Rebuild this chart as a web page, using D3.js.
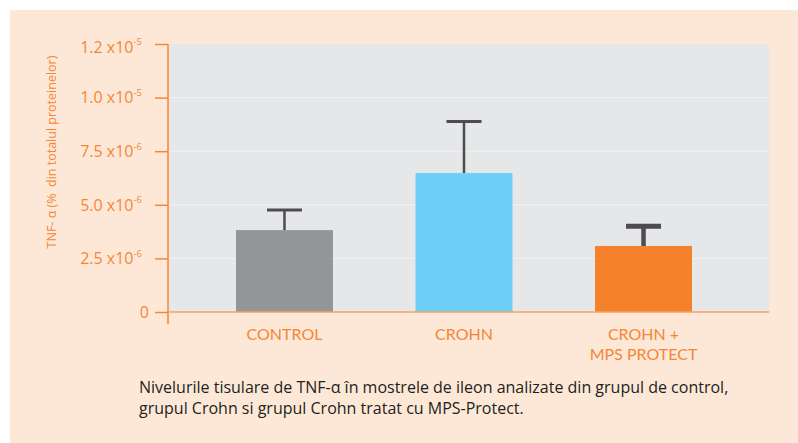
<!DOCTYPE html>
<html>
<head>
<meta charset="utf-8">
<script src="https://cdn.jsdelivr.net/npm/d3@7"></script>
<style>
  html, body { margin: 0; padding: 0; background: #ffffff; }
  svg { display: block; }
  text { font-family: "Open Sans", "Lato", sans-serif; }
</style>
</head>
<body>
<svg id="chart" width="798" height="443"></svg>
<script>
const categories = ["CONTROL", "CROHN", "CROHN +\nMPS PROTECT"];
const means = [3.82e-6, 6.48e-6, 3.08e-6];
const errTops = [4.76e-6, 8.89e-6, 4.0e-6];
const tickValues = [0, 2.5e-6, 5.0e-6, 7.5e-6, 1.0e-5, 1.25e-5];
const tickMantissas = ["0", "2.5", "5.0", "7.5", "1.0", "1.2"];
const tickExponents = ["", "-6", "-6", "-6", "-5", "-5"];
const barColors = ["#939598", "#6dcff6", "#f5822a"];
const errWidths = [3, 3, 5];
const yTitle = "TNF- \u03b1 (%  din totalul proteinelor)";
const caption = [
  "Nivelurile tisulare de TNF-\u03b1 \u00een mostrele de ileon analizate din grupul de control,",
  "grupul Crohn si grupul Crohn tratat cu MPS-Protect."
];

const orange = "#f58634";
const svg = d3.select("#chart");

svg.append("rect").attr("x", 10).attr("y", 10).attr("width", 788).attr("height", 433).attr("fill", "#fde8d8");

const plot = { left: 169, right: 769, top: 44, bottom: 312 };
svg.append("rect").attr("x", plot.left).attr("y", plot.top)
  .attr("width", plot.right - plot.left).attr("height", plot.bottom - plot.top)
  .attr("fill", "#e6e7e8");

const y = d3.scaleLinear().domain([0, 1.25e-5]).range([plot.bottom, plot.top]);
const x = d3.scaleBand().domain(categories).range([236, 692]).paddingInner(0.46).paddingOuter(0);

// gridlines
svg.append("g").selectAll("line").data(tickValues.filter(v => v > 0 && v < 1.25e-5)).join("line")
  .attr("x1", plot.left).attr("x2", plot.right)
  .attr("y1", d => y(d)).attr("y2", d => y(d))
  .attr("stroke", "#f3f3f3").attr("stroke-width", 1);

// bars
svg.append("g").selectAll("rect").data(categories).join("rect")
  .attr("x", d => x(d)).attr("width", x.bandwidth())
  .attr("y", (d, i) => y(means[i])).attr("height", (d, i) => y(0) - y(means[i]))
  .attr("fill", (d, i) => barColors[i]);

// error bars
const eb = svg.append("g").attr("stroke", "#4d4d4f");
categories.forEach((c, i) => {
  const cx = x(c) + x.bandwidth() / 2;
  eb.append("line").attr("x1", cx).attr("x2", cx).attr("y1", y(means[i])).attr("y2", y(errTops[i]))
    .attr("stroke-width", errWidths[i] === 5 ? 4.5 : 2.5);
  eb.append("line").attr("x1", cx - 17.5).attr("x2", cx + 17.5).attr("y1", y(errTops[i])).attr("y2", y(errTops[i]))
    .attr("stroke-width", errWidths[i]);
});

// x axis baseline
svg.append("line").attr("x1", plot.left).attr("x2", plot.right).attr("y1", y(0)).attr("y2", y(0))
  .attr("stroke", "#f7a064").attr("stroke-width", 1.5);

// y axis
const yAxis = d3.axisLeft(y).tickValues(tickValues).tickSize(13).tickFormat("");
const ya = svg.append("g").attr("transform", `translate(${plot.left - 1},0)`).call(yAxis);
ya.select(".domain").remove();
ya.selectAll(".tick line").attr("stroke", orange).attr("stroke-width", 1.5);
svg.append("line").attr("x1", plot.left - 1).attr("x2", plot.left - 1).attr("y1", plot.top).attr("y2", 324)
  .attr("stroke", orange).attr("stroke-width", 1.5);

// tick labels
tickValues.forEach((v, i) => {
  const off = i === tickValues.length - 1 ? 8.5 : 5.8;
  const t = svg.append("text").attr("x", 142).attr("y", y(v) + off)
    .attr("text-anchor", "end").attr("fill", orange).attr("font-size", 16);
  if (tickExponents[i] === "") {
    t.attr("x", 149).text(tickMantissas[i]);
  } else {
    t.append("tspan").text(tickMantissas[i] + " x10");
    t.append("tspan").attr("dy", -7.5).attr("font-size", 9.5).text(tickExponents[i]);
  }
});

// category labels
categories.forEach(c => {
  const lines = c.split("\n");
  lines.forEach((l, j) => svg.append("text")
    .attr("x", x(c) + x.bandwidth() / 2).attr("y", 340 + j * 19.5)
    .attr("text-anchor", "middle").attr("fill", orange)
    .style("font-family", "Lato, 'Open Sans', sans-serif")
    .attr("font-size", 16).text(l));
});

// y title
svg.append("text").attr("transform", "translate(56,152) rotate(-90)")
  .attr("text-anchor", "middle").attr("fill", orange).attr("font-size", 12.5)
  .attr("xml:space", "preserve").style("white-space", "pre").text(yTitle);

// caption
caption.forEach((l, j) => {
  svg.append("text").attr("x", 139).attr("y", 393 + j * 20.5)
    .attr("fill", "#231f20").attr("font-size", 16).text(l);
});
</script>
</body>
</html>
